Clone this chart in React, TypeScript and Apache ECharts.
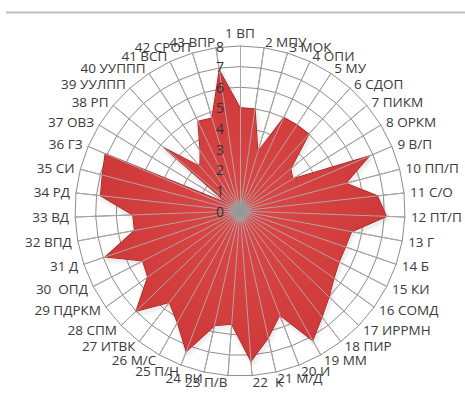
import React, { useEffect, useRef } from 'react';
import * as echarts from 'echarts';

const categories = [
  '1 ВП', '2 МПУ', '3 МОК', '4 ОПИ', '5 МУ', '6 СДОП', '7 ПИКМ', '8 ОРКМ', '9 В/П', '10 ПП/П',
  '11 С/О', '12 ПТ/П', '13 Г', '14 Б', '15 КИ', '16 СОМД', '17 ИРРМН', '18 ПИР', '19 ММ', '20 И',
  '21 М/Д', '22  К', '23 П/В', '24 РИ', '25 П/Н', '26 М/С', '27 ИТВК', '28 СПМ', '29 ПДРКМ', '30  ОПД',
  '31 Д', '32 ВПД', '33 ВД', '34 РД', '35 СИ', '36 ГЗ', '37 ОВЗ', '38 РП', '39 УУЛПП', '40 УУППП',
  '41 ВСП', '42 СРОП', '43 ВПР',
];

const values = [
  5.0, 5.0, 3.0, 5.0, 5.0, 5.0, 3.2, 3.0, 6.8, 5.3,
  6.7, 7.1, 5.5, 5.4, 5.4, 5.6, 6.0, 6.5, 7.2, 5.4,
  6.3, 7.3, 5.5, 5.7, 7.3, 6.2, 5.6, 7.0, 5.5, 5.3,
  6.9, 5.2, 5.2, 6.8, 6.9, 7.1, 0.7, 4.8, 2.9, 3.5,
  4.8, 4.7, 6.9,
];

const valueMin = 0;
const valueMax = 8;
const valueStep = 1;

// ECharts lays radar indicators out counter-clockwise; the reference runs clockwise.
const order = categories.map((_, k) => (k === 0 ? 0 : categories.length - k));

const FONT = '"Open Sans", "DejaVu Sans", sans-serif';

export default function App() {
  const ref = useRef<HTMLDivElement>(null);
  useEffect(() => {
    const chart = echarts.init(ref.current as HTMLDivElement, null, { renderer: 'svg' });
    const cx = 240;
    const cy = 211;
    const R = 165;
    const indicators = order.map((i) => ({ name: categories[i], min: valueMin, max: valueMax }));
    const common = {
      center: [cx, cy],
      radius: R,
      startAngle: 90,
      splitNumber: (valueMax - valueMin) / valueStep,
      shape: 'polygon',
      indicator: indicators,
      axisTick: { show: false },
      axisLabel: { show: false },
      splitArea: { show: false },
    };
    chart.setOption({
      animation: false,
      radar: [
        {
          ...common,
          z: 1,
          nameGap: 6,
          axisName: { color: '#3a3a3a', fontSize: 13.5, fontFamily: FONT },
          splitLine: { lineStyle: { color: '#8c8c8c', width: 1 } },
          axisLine: { lineStyle: { color: '#8c8c8c', width: 1 } },
        },
        {
          ...common,
          z: 6,
          axisName: { show: false },
          splitLine: { show: false },
          axisLine: { lineStyle: { color: '#b3a3a3', width: 1 } },
        },
      ],
      grid: { left: cx, top: cy - R, width: 1, height: R, z: 8 },
      xAxis: { type: 'value', show: false },
      yAxis: {
        type: 'value',
        min: valueMin,
        max: valueMax,
        interval: valueStep,
        z: 8,
        axisLine: { show: false },
        axisTick: { show: false },
        splitLine: { show: false },
        axisLabel: { margin: 16, color: '#333333', fontSize: 14, fontFamily: FONT },
      },
      series: [
        {
          type: 'radar',
          radarIndex: 0,
          z: 2,
          symbol: 'none',
          data: [{ value: order.map((i) => values[i]) }],
          lineStyle: { color: '#9a1c1c', width: 1.2, shadowColor: 'rgba(0,0,0,0.35)', shadowBlur: 4, shadowOffsetX: 1, shadowOffsetY: 2 },
          areaStyle: {
            opacity: 1,
            color: new echarts.graphic.RadialGradient(0.5, 0.5, 0.7, [
              { offset: 0, color: '#dc4848' },
              { offset: 1, color: '#c93232' },
            ]),
          },
        },
      ],
      graphic: [
        {
          type: 'line',
          shape: { x1: 6, y1: 12.5, x2: 465, y2: 12.5 },
          style: { stroke: '#c0c0c0', lineWidth: 2 },
        },
        {
          type: 'circle',
          z: 20,
          shape: { cx, cy, r: 12 },
          style: {
            fill: new echarts.graphic.RadialGradient(0.5, 0.5, 0.5, [
              { offset: 0, color: 'rgba(140,150,150,1)' },
              { offset: 0.6, color: 'rgba(150,155,155,0.8)' },
              { offset: 1, color: 'rgba(160,160,160,0)' },
            ]),
          },
        },
      ],
    });
    return () => chart.dispose();
  }, []);
  return <div ref={ref} style={{ position: 'absolute', left: 0, top: 0, width: 465, height: 409 }} />;
}
